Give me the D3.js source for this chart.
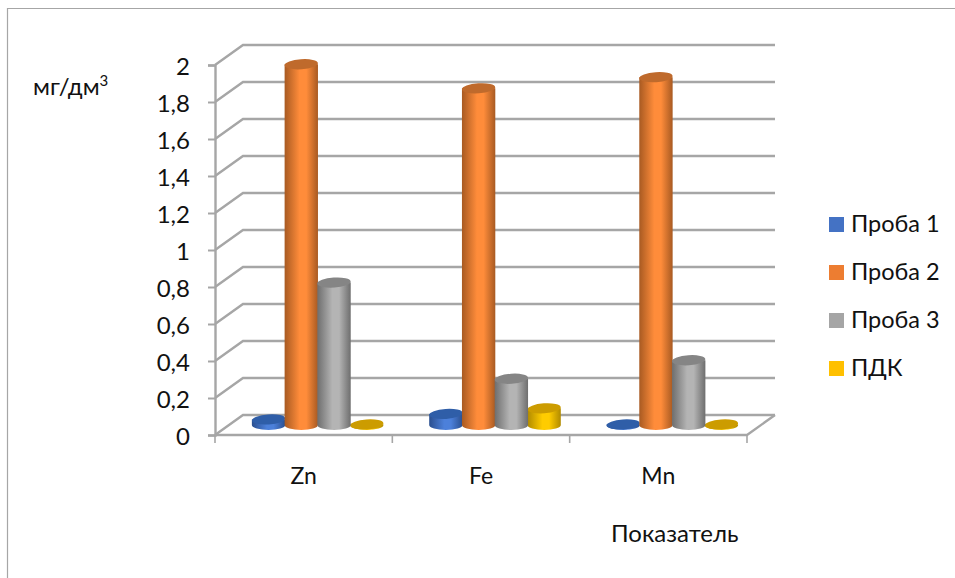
<!DOCTYPE html>
<html>
<head lang="ru">
    <meta charset="UTF-8">
    <title></title>
    <style>
        body { margin: 0; background: #fff; }
        text { font-family: Lato, "Open Sans", sans-serif; fill: #111; }
    </style>
</head>
<body>
<svg width="955" height="578"></svg>
<script src="https://cdn.jsdelivr.net/npm/d3@7"></script>
<script>
    var categories = ["Zn", "Fe", "Mn"];
    var seriesNames = ["Проба 1", "Проба 2", "Проба 3", "ПДК"];
    var proba1 = [0.03, 0.06, 0.003];
    var proba2 = [1.95, 1.82, 1.88];
    var proba3 = [0.77, 0.25, 0.35];
    var pdk = [0.003, 0.09, 0.003];
    var seriesValues = [proba1, proba2, proba3, pdk];
    var yTicks = [0, 0.2, 0.4, 0.6, 0.8, 1, 1.2, 1.4, 1.6, 1.8, 2];
    var legendColors = ["#4472c4", "#ed7d31", "#a5a5a5", "#ffc000"];
    var edgeColors = ["#2a4f8f", "#a85a22", "#6e6e6e", "#b08a00"];
    var midColors = ["#4c80da", "#ff8c3a", "#b4b4b4", "#ffcc00"];
    var topColors = ["#2f5ea8", "#bf6a2c", "#858585", "#cc9c00"];
    var drawOrder = [0, 1, 3, 2];

    var svg = d3.select("svg"),
            MARGINS = {top: 65, right: 208, bottom: 143, left: 215},
            WIDTH = +svg.attr("width"),
            HEIGHT = +svg.attr("height"),
            DEPTH = {x: 28, y: -20},
            GRID = "#a6a6a6";

    var xScale = d3.scaleBand()
            .domain(categories)
            .range([MARGINS.left, WIDTH - MARGINS.right]);
    var xInner = d3.scaleBand()
            .domain(d3.range(seriesNames.length))
            .range([-65.5, 65.5]);
    var yScale = d3.scaleLinear()
            .domain([0, 2])
            .range([HEIGHT - MARGINS.bottom, MARGINS.top]);

    // chart frame, open on the right and at the bottom
    svg.append("path")
            .attr("d", "M7.5,578V8.5H955")
            .attr("fill", "none")
            .attr("stroke", "#a6a6a6")
            .attr("stroke-width", 1.2);

    // horizontal lines on the back wall, with the diagonals on the left side
    svg.append("g").selectAll("path")
            .data(yTicks)
            .enter().append("path")
            .attr("d", function (d) {
                var y = yScale(d);
                return "M" + xScale.range()[0] + "," + y
                        + "l" + DEPTH.x + "," + DEPTH.y
                        + "H" + (xScale.range()[1] + DEPTH.x);
            })
            .attr("fill", "none")
            .attr("stroke", GRID)
            .attr("stroke-width", 2.4);

    // front edge of the floor
    svg.append("path")
            .attr("d", "M" + xScale.range()[0] + "," + yScale(0)
                    + "H" + xScale.range()[1]
                    + "l" + DEPTH.x + "," + DEPTH.y)
            .attr("fill", "none")
            .attr("stroke", GRID)
            .attr("stroke-width", 2.4);

    // value axis
    var yAxis = d3.axisLeft(yScale)
            .tickValues(yTicks)
            .tickSize(7)
            .tickPadding(18)
            .tickFormat(function (d) { return String(d).replace(".", ","); });
    var yG = svg.append("g")
            .attr("transform", "translate(" + MARGINS.left + ",0)")
            .call(yAxis);
    yG.select(".domain").attr("stroke", GRID).attr("stroke-width", 2.4);
    yG.selectAll("line").attr("stroke", GRID).attr("stroke-width", 2);
    yG.selectAll("text").attr("font-size", 24).attr("font-family", null).attr("dy", "0.41em");

    // category axis
    var xAxis = d3.axisBottom(xScale).tickSize(0).tickPadding(33);
    var xG = svg.append("g")
            .attr("transform", "translate(0," + yScale(0) + ")")
            .call(xAxis);
    xG.select(".domain").remove();
    xG.selectAll("text").attr("font-size", 23).attr("font-family", null);

    svg.append("g").selectAll("line")
            .data(d3.range(categories.length + 1))
            .enter().append("line")
            .attr("x1", function (i) { return MARGINS.left + i * xScale.step(); })
            .attr("x2", function (i) { return MARGINS.left + i * xScale.step(); })
            .attr("y1", yScale(0))
            .attr("y2", yScale(0) + 8)
            .attr("stroke", GRID)
            .attr("stroke-width", 1.6);

    // gradients for the cylinders
    var defs = svg.append("defs");
    seriesNames.forEach(function (name, s) {
        var grad = defs.append("linearGradient").attr("id", "cyl" + s);
        grad.append("stop").attr("offset", "0%").attr("stop-color", edgeColors[s]);
        grad.append("stop").attr("offset", "45%").attr("stop-color", midColors[s]);
        grad.append("stop").attr("offset", "65%").attr("stop-color", midColors[s]);
        grad.append("stop").attr("offset", "100%").attr("stop-color", edgeColors[s]);
    });

    var rx = xInner.bandwidth() / 2 + 0.3,
            ry = 5;

    // cylinders stand in the middle of the floor depth
    categories.forEach(function (cat, c) {
        var g = svg.append("g")
                .attr("transform", "translate(" + (xScale(cat) + xScale.bandwidth() / 2 + DEPTH.x / 2)
                        + "," + (DEPTH.y / 2) + ")");
        drawOrder.forEach(function (s) {
            var cx = xInner(s) + xInner.bandwidth() / 2,
                    top = yScale(seriesValues[s][c]),
                    base = yScale(0);
            g.append("path")
                    .attr("d", "M" + (cx - rx) + "," + top
                            + "V" + base
                            + "A" + rx + "," + ry + " 0 0 0 " + (cx + rx) + "," + base
                            + "V" + top + "Z")
                    .attr("fill", "url(#cyl" + s + ")");
            g.append("ellipse")
                    .attr("cx", cx)
                    .attr("cy", top)
                    .attr("rx", rx)
                    .attr("ry", ry)
                    .attr("transform", "rotate(-4 " + cx + " " + top + ")")
                    .attr("fill", topColors[s]);
        });
    });

    // legend
    var legend = svg.append("g").selectAll("g")
            .data(seriesNames)
            .enter().append("g")
            .attr("transform", function (d, i) { return "translate(829," + (217 + i * 48) + ")"; });
    legend.append("rect")
            .attr("width", 15)
            .attr("height", 15)
            .attr("fill", function (d, i) { return legendColors[i]; });
    legend.append("text")
            .attr("x", 22)
            .attr("y", 15)
            .attr("font-size", 23.5)
            .text(function (d) { return d; });

    // axis titles
    var unit = svg.append("text")
            .attr("x", 33)
            .attr("y", 95)
            .attr("font-size", 24)
            .text("мг/дм");
    unit.append("tspan")
            .attr("font-size", 15)
            .attr("dy", -9)
            .text("3");
    svg.append("text")
            .attr("x", 611)
            .attr("y", 542)
            .attr("font-size", 24)
            .text("Показатель");
</script>
</body>
</html>
